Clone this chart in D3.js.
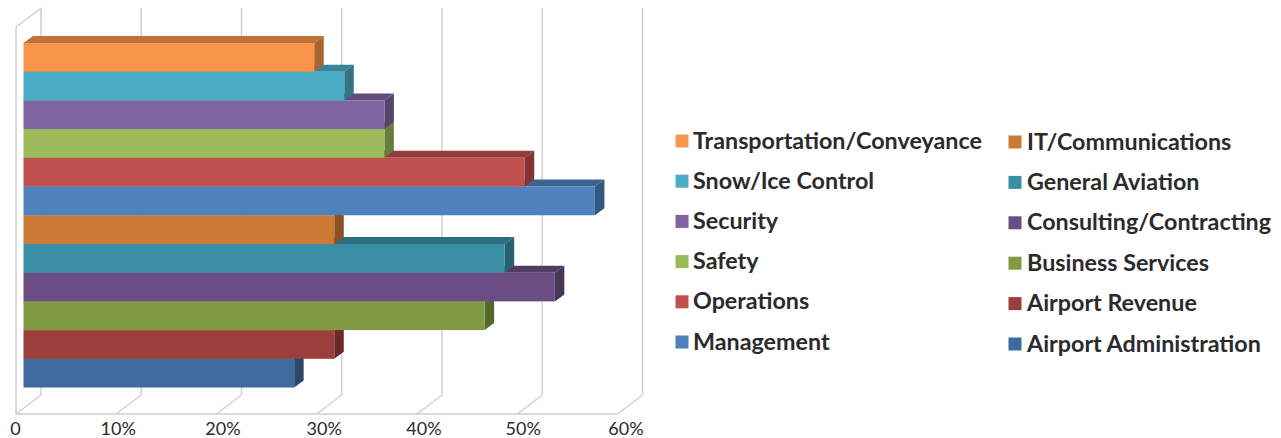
<!DOCTYPE html>
<html>
<head>
<meta charset="utf-8">
<script src="https://cdnjs.cloudflare.com/ajax/libs/d3/7.8.5/d3.min.js"></script>
<style>
html, body { margin: 0; padding: 0; background: #fff; overflow: hidden; }
text { font-family: Lato, "Open Sans", sans-serif; fill: #2b2a2c; }
</style>
</head>
<body>
<div id="chart"></div>
<script>
// top to bottom as drawn on the y axis
const categories = ['Transportation/Conveyance', 'Snow/Ice Control', 'Security', 'Safety', 'Operations', 'Management',
    'IT/Communications', 'General Aviation', 'Consulting/Contracting', 'Business Services', 'Airport Revenue', 'Airport Administration'];
const values = [29, 32, 36, 36, 50, 57, 31, 48, 53, 46, 31, 27];
const frontCol = ['#F9954A', '#4BACC6', '#8064A2', '#9BBB59', '#C0504D', '#4F81BD',
    '#CC7A35', '#3A8FA6', '#6A4E83', '#7F9A42', '#9C3F3C', '#3F6A9E'];
const xTicks = [0, 10, 20, 30, 40, 50, 60];

const W = 1281, H = 438;
const floorY = 414, wallH = 387;
const depth = {x: 25, y: 19};
const barDepth = {x: 9.5, y: 7};
const barInset = 7.5;
const gridCol = '#cfcfcf';

const svg = d3.select('#chart').append('svg').attr('width', W).attr('height', H);

const x = d3.scaleLinear().domain([0, 60]).range([16, 617.5]);
const y = d3.scaleBand().domain(categories).range([43, 387.5]).padding(0);

// walls and floor
const grid = svg.append('g').attr('fill', 'none').attr('stroke', gridCol).attr('stroke-width', 1.5);
grid.selectAll('.wall').data(xTicks).enter().append('line').attr('class', 'wall')
    .attr('x1', d => x(d) + depth.x).attr('x2', d => x(d) + depth.x)
    .attr('y1', floorY - depth.y).attr('y2', floorY - depth.y - wallH);
grid.selectAll('.floor').data(xTicks).enter().append('line').attr('class', 'floor')
    .attr('x1', d => x(d)).attr('x2', d => x(d) + depth.x)
    .attr('y1', floorY).attr('y2', floorY - depth.y);
grid.append('line').attr('x1', x(0)).attr('x2', x(0)).attr('y1', floorY).attr('y2', floorY - wallH);
grid.append('line').attr('x1', x(0)).attr('x2', x(0) + depth.x).attr('y1', floorY - wallH).attr('y2', floorY - wallH - depth.y);
grid.append('line').attr('x1', x(0)).attr('x2', x(60)).attr('y1', floorY).attr('y2', floorY);

// bars, bottom one first so the upper fronts cover the tops below them
const rows = categories.map((c, i) => ({c, v: values[i], col: frontCol[i]})).reverse();
const bar = svg.selectAll('.bar').data(rows).enter().append('g').attr('class', 'bar');
const x0 = x(0) + barInset;
const xEnd = d => x(d.v) + barInset;

bar.append('path')
    .attr('d', d => {
        const t = y(d.c);
        return `M${x0},${t}L${x0 + barDepth.x},${t - barDepth.y}L${xEnd(d) + barDepth.x},${t - barDepth.y}L${xEnd(d)},${t}Z`;
    })
    .attr('fill', d => d3.color(d.col).darker(0.75));
bar.append('path')
    .attr('d', d => {
        const t = y(d.c), b = t + y.bandwidth(), e = xEnd(d);
        return `M${e},${t}L${e + barDepth.x},${t - barDepth.y}L${e + barDepth.x},${b - barDepth.y}L${e},${b}Z`;
    })
    .attr('fill', d => d3.color(d.col).darker(1.1));
bar.append('rect')
    .attr('x', x0).attr('y', d => y(d.c))
    .attr('width', d => xEnd(d) - x0).attr('height', y.bandwidth())
    .attr('fill', d => d.col);

// x axis labels
const labelNudge = [-1, 1.5, 6, 7, 6.5, 5.5, 8];
const axis = svg.append('g').attr('transform', `translate(0,${floorY})`)
    .call(d3.axisBottom(x).tickValues(xTicks).tickSize(0).tickFormat(d => d === 0 ? '0' : d + '%'));
axis.select('.domain').remove();
axis.selectAll('text')
    .attr('dy', 0).attr('y', 21)
    .attr('dx', (d, i) => labelNudge[i])
    .style('font-family', 'Lato, sans-serif').style('font-size', '18px').style('fill', '#2b2a2c');

// legend, two columns of six
const legendCols = [{sw: 675.5, tx: 693, cy: 141, step: 40.2}, {sw: 1008.5, tx: 1027, cy: 142, step: 40.4}];
const legend = svg.selectAll('.legend-item').data(categories).enter().append('g').attr('class', 'legend-item')
    .attr('transform', (d, i) => {
        const col = legendCols[Math.floor(i / 6)];
        return `translate(0,${col.cy + (i % 6) * col.step})`;
    });
legend.append('rect')
    .attr('x', (d, i) => legendCols[Math.floor(i / 6)].sw).attr('y', -6.5)
    .attr('width', 13).attr('height', 13)
    .attr('fill', (d, i) => frontCol[i]);
legend.append('text')
    .attr('x', (d, i) => legendCols[Math.floor(i / 6)].tx).attr('y', 7.5)
    .style('font-size', '23.3px').style('font-weight', 700)
    .text(d => d);
</script>
</body>
</html>
